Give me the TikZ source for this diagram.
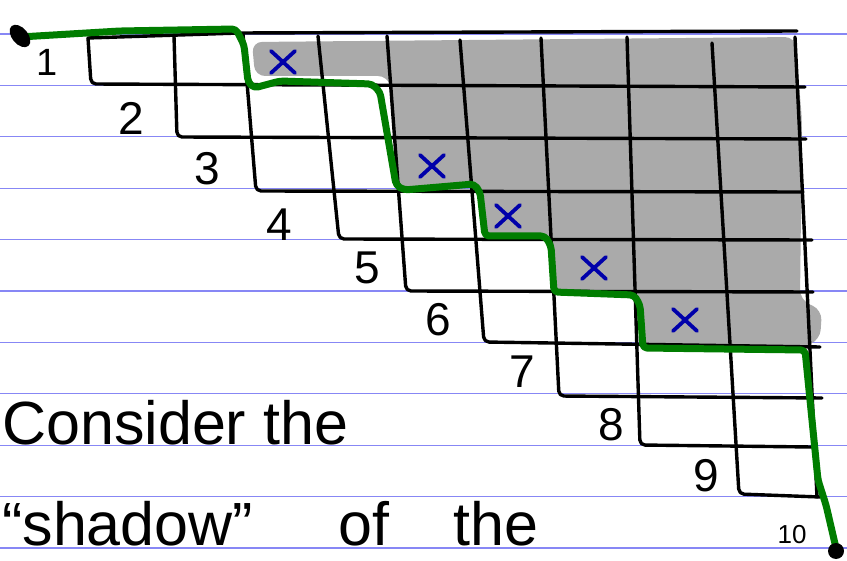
\documentclass[tikz,border=0pt]{standalone}
\usepackage{fontspec}
\setmainfont{Liberation Sans}
\definecolor{ruled}{RGB}{135,135,245}
\definecolor{shadowgrey}{RGB}{170,170,170}
\definecolor{pathgreen}{RGB}{0,125,0}
\definecolor{xblue}{RGB}{0,0,170}
\begin{document}
\begin{tikzpicture}[x=1pt,y=-1pt,
 ruledline/.style={draw=ruled, line width=1.3pt},
 gridline/.style={draw=black, line width=3.4pt, line cap=round, line join=round, rounded corners=5pt},
 greenpath/.style={draw=pathgreen, line width=7pt, line cap=round, line join=round, rounded corners=4pt},
 xmark/.style={draw=xblue, line width=3.8pt, line cap=round},
 rowlabel/.style={font=\fontsize{46}{46}\selectfont, inner sep=0pt},
 handtext/.style={font=\fontsize{61}{61}\selectfont, inner sep=0pt, anchor=base west}]
\useasboundingbox (0,0) rectangle (847,561);
\clip (0,0) rectangle (847,561);
\fill[white] (0,0) rectangle (847,561);
% ruled paper
\foreach \k in {0,...,10} \draw[ruledline] (0,34+51.4*\k) -- (847,34+51.4*\k);
% shadow
\fill[shadowgrey, rounded corners=10pt] (252,42) -- (795,37) -- (802,120) -- (800,300) -- (822,310) -- (820,340) -- (800,348) -- (643,348) -- (640,295) -- (554,292) -- (551,236) -- (485,236) -- (480,188) -- (398,188) -- (392,92) -- (388,76) -- (255,76) -- cycle;
% grid
\draw[gridline] (795,37) -- (817,497);
\draw[gridline] (88,38) -- (240,33) -- (797,31);
\draw[gridline] (88,38) -- (91,84) -- (805,87);
\draw[gridline] (174,36) -- (177,137) -- (806,139);
\draw[gridline] (243,34) -- (256,191) -- (803,192);
\draw[gridline] (318,36) -- (339,239) -- (812,240);
\draw[gridline] (387,36) -- (406,291) -- (813,292);
\draw[gridline] (460,40) -- (484,342) -- (820,347);
\draw[gridline] (541,38) -- (559,396) -- (822,398);
\draw[gridline] (627,37) -- (640,445) -- (812,447);
\draw[gridline] (712,43) -- (739,494) -- (820,497);
% row labels
\node[rowlabel, font=\fontsize{38}{38}\selectfont] (l1) at (47,62) {1};
\node[rowlabel] (l2) at (131,118) {2};
\node[rowlabel] (l3) at (207,169) {3};
\node[rowlabel] (l4) at (279,225) {4};
\node[rowlabel] (l5) at (367,268) {5};
\node[rowlabel] (l6) at (438,320) {6};
\node[rowlabel] (l7) at (522,372) {7};
\node[rowlabel] (l8) at (611,425) {8};
\node[rowlabel] (l9) at (706,476) {9};
\node[rowlabel, font=\fontsize{26}{26}\selectfont] (l10) at (792,535) {10};
% crosses
\foreach \cx/\cy in {283/62, 432/166, 508/216, 594/268, 685/320} {
  \draw[xmark] (\cx-12,\cy-11) -- (\cx+12,\cy+11);
  \draw[xmark] (\cx+12,\cy-11) -- (\cx-12,\cy+11);
}
% green path
\draw[greenpath] (20,37) -- (120,31) -- (236,29) -- (244,45) -- (248,82) -- (254,88) -- (280,81) -- (372,84) -- (380,92) -- (396,185) -- (404,190) -- (474,184) -- (480,192) -- (485,236) -- (545,236) -- (551,246) -- (554,292) -- (634,295) -- (640,305) -- (643,348) -- (805,350) -- (810,400) -- (818,480) -- (826,505) -- (836,548);
\fill[rotate around={40:(20,36)}] (20,36) ellipse [x radius=8pt, y radius=13pt];
\fill (836,551) circle [radius=8pt];
% handwriting
\node[handtext] (t1) at (2,445) {Consider the};
\node[handtext] (t2) at (2,545) {“shadow”};
\node[handtext] (t3) at (338,545) {of};
\node[handtext] (t4) at (453,545) {the};
\end{tikzpicture}
\end{document}
